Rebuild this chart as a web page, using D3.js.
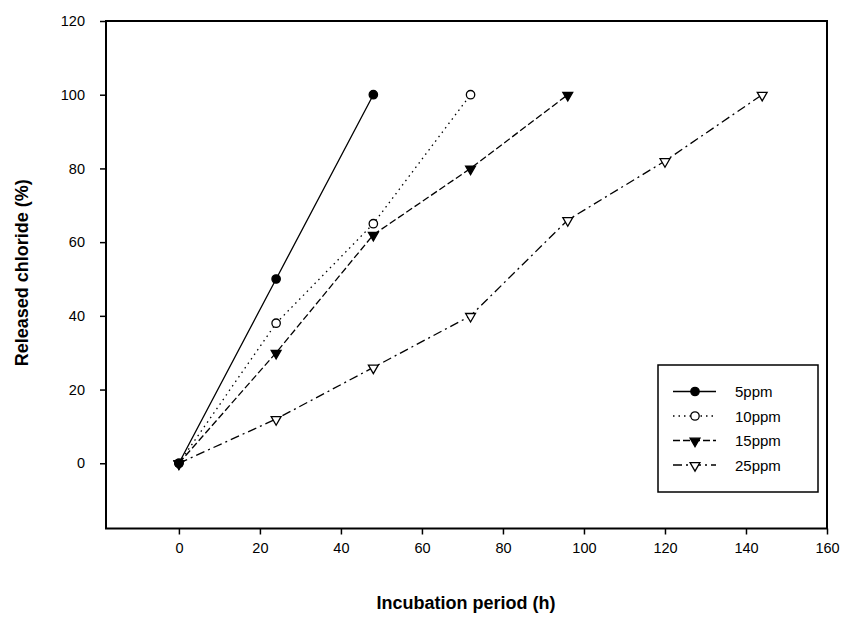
<!DOCTYPE html>
<html><head><meta charset="utf-8">
<script src="https://cdn.jsdelivr.net/npm/d3@7"></script>
<style>body{margin:0;background:#fff}svg{display:block}</style>
</head><body><svg id="c" width="845" height="619"></svg>
<script>
const hours5 = [0, 24, 48];
const values5 = [0, 50, 100];
const hours10 = [0, 24, 48, 72];
const values10 = [0, 38, 65, 100];
const hours15 = [0, 24, 48, 72, 96];
const values15 = [0, 30, 62, 80, 100];
const hours25 = [0, 24, 48, 72, 96, 120, 144];
const values25 = [0, 12, 26, 40, 66, 82, 100];
const seriesNames = ["5ppm", "10ppm", "15ppm", "25ppm"];
const xTicks = [0, 20, 40, 60, 80, 100, 120, 140, 160];
const yTicks = [0, 20, 40, 60, 80, 100, 120];

const svg = d3.select("#c");
const L = 106, R = 827, T = 21, B = 528.5;
const x = d3.scaleLinear().domain([-18, 160]).range([L, R]);
const y = d3.scaleLinear().domain([-17.7, 120]).range([B, T]);

const series = [
  {name: seriesNames[0], xs: hours5, ys: values5, dash: null, sym: "circle", fill: "#000"},
  {name: seriesNames[1], xs: hours10, ys: values10, dash: "1.5,4", sym: "circle", fill: "#fff"},
  {name: seriesNames[2], xs: hours15, ys: values15, dash: "7,3", sym: "tri", fill: "#000"},
  {name: seriesNames[3], xs: hours25, ys: values25, dash: "9,4,2,4", sym: "tri", fill: "#fff"}
];

const fontTick = "Arial, 'Liberation Sans', sans-serif";

// frame
svg.append("rect").attr("x", L).attr("y", T).attr("width", R - L).attr("height", B - T)
  .attr("fill", "none").attr("stroke", "#000").attr("stroke-width", 2);

// axes
const xAxis = d3.axisBottom(x).tickValues(xTicks).tickSize(6).tickPadding(8).tickFormat(d3.format("d"));
const gx = svg.append("g").attr("transform", `translate(0,${B})`).call(xAxis);
gx.select(".domain").remove();
gx.selectAll("line").attr("stroke-width", 1.5);
gx.selectAll("text").attr("font-family", fontTick).attr("font-size", 14.5).attr("fill", "#000");

const yAxis = d3.axisLeft(y).tickValues(yTicks).tickSize(6).tickPadding(15).tickFormat(d3.format("d"));
const gy = svg.append("g").attr("transform", `translate(${L},0)`).call(yAxis);
gy.select(".domain").remove();
gy.selectAll("line").attr("stroke-width", 1.5);
gy.selectAll("text").attr("font-family", fontTick).attr("font-size", 14.5).attr("fill", "#000");

// labels
svg.append("text").attr("x", 466).attr("y", 609).attr("text-anchor", "middle")
  .attr("font-family", fontTick).attr("font-weight", "bold").attr("font-size", 18)
  .text("Incubation period (h)");
svg.append("text").attr("transform", `translate(28,${(T + B) / 2 - 2}) rotate(-90)`).attr("text-anchor", "middle")
  .attr("font-family", fontTick).attr("font-weight", "bold").attr("font-size", 18)
  .text("Released chloride (%)");

const line = d3.line().x(d => x(d[0])).y(d => y(d[1]));
const tri = d3.symbol().type(d3.symbolTriangle).size(42);

function drawMarker(g, s, px, py) {
  if (s.sym === "circle") {
    g.append("circle").attr("cx", px).attr("cy", py).attr("r", 4.2)
      .attr("fill", s.fill).attr("stroke", "#000").attr("stroke-width", 1.3);
  } else {
    g.append("path").attr("d", tri).attr("transform", `translate(${px},${py + 0.5}) rotate(180)`)
      .attr("fill", s.fill).attr("stroke", "#000").attr("stroke-width", 1.3);
  }
}

series.slice().reverse().forEach(s => {
  const pts = s.xs.map((h, i) => [h, s.ys[i]]);
  svg.append("path").attr("d", line(pts)).attr("fill", "none").attr("stroke", "#000")
    .attr("stroke-width", 1.3).attr("stroke-dasharray", s.dash);
});
series.slice().reverse().forEach(s => {
  const g = svg.append("g");
  s.xs.forEach((h, i) => drawMarker(g, s, x(h), y(s.ys[i])));
});

// legend
const lg = svg.append("g");
lg.append("rect").attr("x", 658).attr("y", 365).attr("width", 160).attr("height", 127)
  .attr("fill", "#fff").attr("stroke", "#000").attr("stroke-width", 1.5);
series.forEach((s, i) => {
  const yy = 391.5 + i * 24.5;
  lg.append("line").attr("x1", 673).attr("x2", 716).attr("y1", yy).attr("y2", yy)
    .attr("stroke", "#000").attr("stroke-width", 1.3).attr("stroke-dasharray", s.dash);
  drawMarker(lg, s, 695, yy);
  lg.append("text").attr("x", 735).attr("y", yy + 5.5).attr("font-family", fontTick)
    .attr("font-size", 15).text(s.name);
});
</script></body></html>
